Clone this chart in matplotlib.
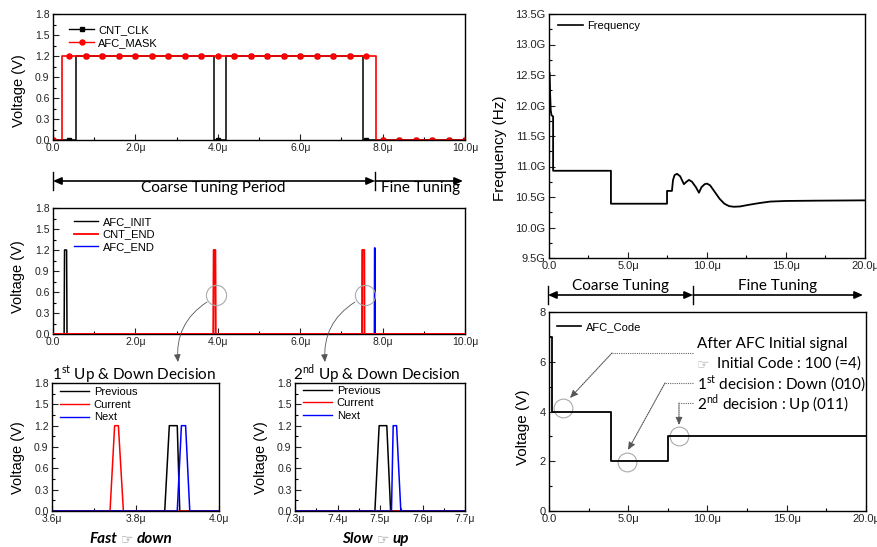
import matplotlib
matplotlib.use("Agg")
import matplotlib.pyplot as plt
from matplotlib.lines import Line2D
from matplotlib.ticker import MultipleLocator

W, H = 878, 547
TXT = ["Lato", "DejaVu Sans"]
plt.rcParams["font.family"] = ["Liberation Sans", "DejaVu Sans"]
plt.rcParams["mathtext.fontset"] = "custom"
plt.rcParams["mathtext.rm"] = "Lato"

# ---- panel 1: CNT_CLK / AFC_MASK (time in us, volts) ----
clk_t = [0.0, 0.57, 0.57, 3.90, 3.90, 4.19, 4.19, 7.52, 7.52, 10.0]
clk_v = [0.0, 0.0, 1.2, 1.2, 0.0, 0.0, 1.2, 1.2, 0.0, 0.0]
mask_t = [0.0, 0.22, 0.22, 7.84, 7.84, 10.0]
mask_v = [0.0, 0.0, 1.2, 1.2, 0.0, 0.0]
sym_t = [0.0, 0.4, 0.8, 1.2, 1.6, 2.0, 2.4, 2.8, 3.2, 3.6, 4.0, 4.4, 4.8,
         5.2, 5.6, 6.0, 6.4, 6.8, 7.2, 7.6, 8.0, 8.4, 8.8, 9.2, 9.6, 10.0]
clk_sym_v = [0.0, 0.0, 1.2, 1.2, 1.2, 1.2, 1.2, 1.2, 1.2, 1.2, 0.0, 1.2, 1.2,
             1.2, 1.2, 1.2, 1.2, 1.2, 1.2, 0.0, 0.0, 0.0, 0.0, 0.0, 0.0, 0.0]
mask_sym_v = [0.0, 1.2, 1.2, 1.2, 1.2, 1.2, 1.2, 1.2, 1.2, 1.2, 1.2, 1.2, 1.2,
              1.2, 1.2, 1.2, 1.2, 1.2, 1.2, 1.2, 0.0, 0.0, 0.0, 0.0, 0.0, 0.0]

# ---- panel 2: AFC_INIT / CNT_END / AFC_END ----
init_t = [0.0, 0.27, 0.28, 0.33, 0.34, 10.0]
init_v = [0.0, 0.0, 1.2, 1.2, 0.0, 0.0]
cend_t = [0.0, 3.89, 3.90, 3.94, 3.95, 7.50, 7.505, 7.555, 7.56, 10.0]
cend_v = [0.0, 0.0, 1.2, 1.2, 0.0, 0.0, 1.2, 1.2, 0.0, 0.0]
aend_t = [0.0, 7.80, 7.805, 7.815, 7.82, 10.0]
aend_v = [0.0, 0.0, 1.23, 1.23, 0.0, 0.0]
zoom_t = [3.95, 7.57]
zoom_v = [0.56, 0.56]

# ---- panel 3: 1st decision ----
pulse_v = [0.0, 0.0, 1.2, 1.2, 0.0, 0.0]
prev1_t = [3.6, 3.870, 3.881, 3.900, 3.906, 4.0]
cur1_t = [3.6, 3.739, 3.750, 3.759, 3.771, 4.0]
next1_t = [3.6, 3.900, 3.910, 3.920, 3.930, 4.0]

# ---- panel 4: 2nd decision ----
prev2_t = [7.3, 7.488, 7.498, 7.516, 7.525, 7.7]
cur2_t = [7.3, 7.7]
cur2_v = [0.0, 0.0]
next2_t = [7.3, 7.527, 7.531, 7.539, 7.549, 7.7]

# ---- frequency (us, GHz) ----
freq_t = [0.04, 0.07, 0.11, 0.16, 0.26, 0.26, 3.92, 3.92, 7.47, 7.47, 7.78,
          7.85, 7.95, 8.10, 8.30, 8.54, 8.70, 8.86, 9.05, 9.30, 9.49, 9.65,
          9.85, 10.0, 10.2, 10.5, 10.8, 11.1, 11.4, 11.7, 12.1, 12.6, 13.3,
          14.0, 15.0, 17.0, 20.0]
freq_g = [12.53, 12.20, 11.92, 11.84, 11.82, 10.93, 10.93, 10.39, 10.39,
          10.60, 10.60, 10.78, 10.86, 10.88, 10.84, 10.71, 10.75, 10.78,
          10.75, 10.66, 10.57, 10.66, 10.71, 10.72, 10.69, 10.58, 10.47,
          10.39, 10.35, 10.34, 10.345, 10.37, 10.40, 10.425, 10.435, 10.44,
          10.445]

# ---- AFC code ----
code_t = [0.0, 0.0, 0.22, 0.22, 3.90, 3.90, 7.50, 7.50, 20.0]
code_v = [0.0, 7.0, 7.0, 4.0, 4.0, 2.0, 2.0, 3.0, 3.0]
mark_t = [0.89, 4.94, 8.23]
mark_v = [4.14, 1.97, 3.02]

left_xticks = [0, 2, 4, 6, 8, 10]
left_xlabels = ["0.0", "2.0\u03bc", "4.0\u03bc", "6.0\u03bc", "8.0\u03bc", "10.0\u03bc"]
volt_ticks = [0.0, 0.3, 0.6, 0.9, 1.2, 1.5, 1.8]
volt_labels = ["0.0", "0.3", "0.6", "0.9", "1.2", "1.5", "1.8"]
d1_ticks = [3.6, 3.8, 4.0]
d1_labels = ["3.6\u03bc", "3.8\u03bc", "4.0\u03bc"]
d2_ticks = [7.3, 7.4, 7.5, 7.6, 7.7]
d2_labels = ["7.3\u03bc", "7.4\u03bc", "7.5\u03bc", "7.6\u03bc", "7.7\u03bc"]
right_xticks = [0, 5, 10, 15, 20]
right_xlabels = ["0.0", "5.0\u03bc", "10.0\u03bc", "15.0\u03bc", "20.0\u03bc"]
freq_ticks = [9.5, 10.0, 10.5, 11.0, 11.5, 12.0, 12.5, 13.0, 13.5]
freq_labels = ["9.5G", "10.0G", "10.5G", "11.0G", "11.5G", "12.0G", "12.5G", "13.0G", "13.5G"]
code_ticks = [0, 2, 4, 6, 8]

fig = plt.figure(figsize=(W / 100, H / 100), dpi=100)


def fp(x, y):
    # pixel position measured from the top-left corner -> figure fraction
    return (x / W, 1 - y / H)


def add_ax(l, t, r, b):
    return fig.add_axes([l / W, 1 - b / H, (r - l) / W, (b - t) / H])


def style(ax, xt, xl, xminor, yt, yl, yminor, size=7.5):
    ax.set_xticks(xt)
    ax.set_xticklabels(xl)
    ax.set_yticks(yt)
    ax.set_yticklabels(yl)
    ax.xaxis.set_minor_locator(MultipleLocator(xminor))
    ax.yaxis.set_minor_locator(MultipleLocator(yminor))
    ax.tick_params(direction="in", length=4, width=0.8, labelsize=size,
                   colors="#222222", pad=2.5)
    ax.tick_params(which="minor", direction="in", length=2, width=0.8)
    for s in ax.spines.values():
        s.set_linewidth(1.0)


def ylab(x, y, s, size=10.5):
    fig.text(*fp(x, y), s, rotation=90, ha="center", va="center", fontsize=size)


def leg(ax, handles, labels, x, y, size=8, spacing=0.25, hl=2.2):
    ax.legend(handles, labels, loc="upper left", bbox_to_anchor=(x, y), frameon=False,
              fontsize=size, labelspacing=spacing, handlelength=hl, handletextpad=0.4,
              borderaxespad=0, borderpad=0)


# panel 1
ax1 = add_ax(53, 14, 465, 140)
ax1.plot(clk_t, clk_v, color="black", lw=1.1)
ax1.plot(sym_t, clk_sym_v, ls="none", marker="s", ms=2.8, color="black")
ax1.plot(mask_t, mask_v, color="red", lw=1.2)
ax1.plot(sym_t, mask_sym_v, ls="none", marker="o", ms=3.6, color="red")
ax1.set_xlim(0, 10)
ax1.set_ylim(0, 1.8)
style(ax1, left_xticks, left_xlabels, 1, volt_ticks, volt_labels, 0.15)
leg(ax1, [Line2D([], [], color="black", lw=1, marker="s", ms=2.8),
          Line2D([], [], color="red", lw=1, marker="o", ms=3.6)],
    ["CNT_CLK", "AFC_MASK"], 0.04, 0.91)
ylab(19, 91, "Voltage (V)")

# panel 2
ax2 = add_ax(53, 208, 465, 334)
ax2.plot(init_t, init_v, color="black", lw=1.1, zorder=2)
ax2.plot(aend_t, aend_v, color="blue", lw=1.1, zorder=3)
ax2.plot(cend_t, cend_v, color="red", lw=1.4, zorder=4)
ax2.plot(zoom_t, zoom_v, ls="none", marker="o", ms=14.5, mfc="none",
         mec="#aaaaaa", mew=0.8, zorder=5)
ax2.set_xlim(0, 10)
ax2.set_ylim(0, 1.8)
style(ax2, left_xticks, left_xlabels, 1, volt_ticks, volt_labels, 0.15)
leg(ax2, [Line2D([], [], color="black", lw=1), Line2D([], [], color="red", lw=1.3),
          Line2D([], [], color="blue", lw=1)],
    ["AFC_INIT", "CNT_END", "AFC_END"], 0.05, 0.93)
ylab(18, 277, "Voltage (V)")

# panel 3
ax3 = add_ax(52, 383, 219, 511)
ax3.plot(prev1_t, pulse_v, color="black", lw=1.1)
ax3.plot(cur1_t, pulse_v, color="red", lw=1.1)
ax3.plot(next1_t, pulse_v, color="blue", lw=1.1)
ax3.set_xlim(3.6, 4.0)
ax3.set_ylim(0, 1.8)
style(ax3, d1_ticks, d1_labels, 0.1, volt_ticks, volt_labels, 0.15)
leg(ax3, [Line2D([], [], color=c, lw=1) for c in ("black", "red", "blue")],
    ["Previous", "Current", "Next"], 0.05, 0.97, hl=2.6)
ylab(18, 458, "Voltage (V)")

# panel 4
ax4 = add_ax(295, 383, 465, 511)
ax4.plot(prev2_t, pulse_v, color="black", lw=1.1)
ax4.plot(cur2_t, cur2_v, color="red", lw=1.1)
ax4.plot(next2_t, pulse_v, color="blue", lw=1.1)
ax4.set_xlim(7.3, 7.7)
ax4.set_ylim(0, 1.8)
style(ax4, d2_ticks, d2_labels, 0.05, volt_ticks, volt_labels, 0.15)
leg(ax4, [Line2D([], [], color=c, lw=1) for c in ("black", "red", "blue")],
    ["Previous", "Current", "Next"], 0.05, 0.98, hl=2.6)
ylab(261, 458, "Voltage (V)")

# frequency
axf = add_ax(549, 14, 865, 258)
axf.plot(freq_t, freq_g, color="black", lw=1.3, zorder=3)
axf.set_xlim(0, 20)
axf.set_ylim(9.5, 13.5)
style(axf, right_xticks, right_xlabels, 2.5, freq_ticks, freq_labels, 0.25, size=8)
leg(axf, [Line2D([], [], color="black", lw=1.2)], ["Frequency"], 0.03, 0.97)
ylab(500, 148, "Frequency (Hz)", 11)

# AFC code
axc = add_ax(549, 312, 866, 511)
axc.plot(code_t, code_v, color="black", lw=1.3, zorder=3)
axc.plot(mark_t, mark_v, ls="none", marker="o", ms=13.5, mfc="none",
         mec="#aaaaaa", mew=0.8)
axc.set_xlim(0, 20)
axc.set_ylim(0, 8)
style(axc, right_xticks, right_xlabels, 2.5, code_ticks, [str(v) for v in code_ticks], 1, size=8)
leg(axc, [Line2D([], [], color="black", lw=1.2)], ["AFC_Code"], 0.025, 0.95)
ylab(523, 427, "Voltage (V)", 11)


# tuning period arrows
def period(x0, x1, y, heads):
    fig.add_artist(plt.Line2D([x0 / W, x0 / W], [1 - (y - 9) / H, 1 - (y + 9) / H],
                              color="black", lw=1.0))
    plt.annotate("", xy=fp(x1, y), xytext=fp(x0, y), xycoords="figure fraction",
                 textcoords="figure fraction",
                 arrowprops=dict(arrowstyle=heads + ",head_length=0.5,head_width=0.22",
                                 color="black", lw=1.2, shrinkA=0, shrinkB=0))


period(53, 375, 181, "<|-|>")
period(375, 463, 181, "-|>")
period(548, 693, 295, "<|-|>")
period(693, 863, 295, "-|>")
fig.text(*fp(213, 188), "Coarse Tuning Period", family=TXT, fontsize=11, ha="center", va="center")
fig.text(*fp(421, 188), "Fine Tuning", family=TXT, fontsize=11, ha="center", va="center")
fig.text(*fp(621, 286), "Coarse Tuning", family=TXT, fontsize=11, ha="center", va="center")
fig.text(*fp(778, 286), "Fine Tuning", family=TXT, fontsize=11, ha="center", va="center")

# zoom arrows from panel 2
for (x0, y0), (x1, y1) in [((207, 302), (178, 362)), ((355, 302), (325, 362))]:
    plt.annotate("", xy=fp(x1, y1), xytext=fp(x0, y0), xycoords="figure fraction",
                 textcoords="figure fraction",
                 arrowprops=dict(arrowstyle="-|>,head_length=0.45,head_width=0.2",
                                 color="#555555", lw=0.6, shrinkA=0, shrinkB=0,
                                 connectionstyle="arc3,rad=0.3"))

# decision titles
fig.text(*fp(134, 374), r"1$^{\mathrm{st}}$ Up & Down Decision", family=TXT, fontsize=11,
         ha="center", va="center")
fig.text(*fp(377, 374), r"2$^{\mathrm{nd}}$ Up & Down Decision", family=TXT, fontsize=11,
         ha="center", va="center")
for (xl, word_l, xr, word_r) in [(117, "Fast", 137, "down"), (373, "Slow", 393, "up")]:
    fig.text(*fp(xl, 539), word_l, family=TXT, fontsize=11, weight="bold", style="italic",
             ha="right", va="center")
    fig.text(*fp((xl + xr) / 2, 539), "\u261e", family=TXT, fontsize=10, color="#999999",
             ha="center", va="center")
    fig.text(*fp(xr, 539), word_r, family=TXT, fontsize=11, weight="bold", style="italic",
             ha="left", va="center")

# AFC code annotations
fig.text(*fp(697, 344), "After AFC Initial signal", family=TXT, fontsize=11, va="center")
fig.text(*fp(697, 364), "\u261e", family=TXT, fontsize=10, color="#aaaaaa", va="center")
fig.text(*fp(717, 364), "Initial Code : 100 (=4)", family=TXT, fontsize=11, va="center")
fig.text(*fp(697, 384), r"1$^{\mathrm{st}}$ decision : Down (010)", family=TXT, fontsize=11,
         va="center")
fig.text(*fp(697, 404), r"2$^{\mathrm{nd}}$ decision : Up (011)", family=TXT, fontsize=11,
         va="center")
for (xa, ya), (xb, yb), (xt, yt) in [((693, 353), (612, 353), (570, 398)),
                                     ((693, 383), (665, 383), (628, 450)),
                                     ((693, 403), (679, 403), (679, 425))]:
    fig.add_artist(plt.Line2D([xa / W, xb / W], [1 - ya / H, 1 - yb / H], color="#666666",
                              lw=0.8, ls=(0, (1, 1))))
    plt.annotate("", xy=fp(xt, yt), xytext=fp(xb, yb), xycoords="figure fraction",
                 textcoords="figure fraction",
                 arrowprops=dict(arrowstyle="-|>,head_length=0.45,head_width=0.2",
                                 color="#555555", lw=0.8, ls=(0, (1, 1)), shrinkA=0, shrinkB=0))

fig.savefig("out.png", dpi=100)
